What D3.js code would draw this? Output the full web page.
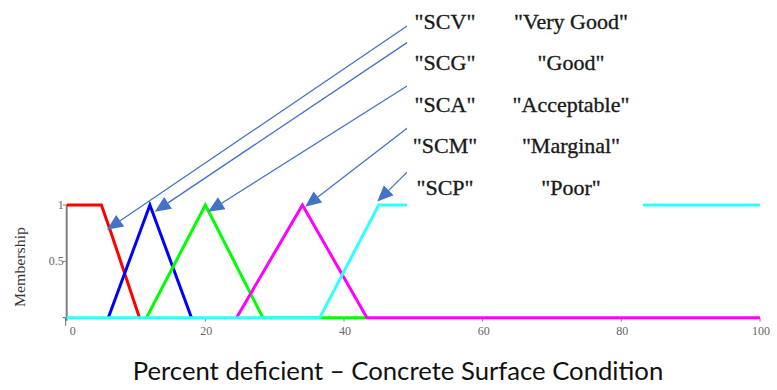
<!DOCTYPE html>
<html>
<head>
<meta charset="utf-8">
<script src="https://cdn.jsdelivr.net/npm/d3@7"></script>
<style>
  html, body { margin: 0; padding: 0; background: #fff; }
  svg { display: block; }
</style>
</head>
<body>
<svg id="chart" width="777" height="390"></svg>
<script>
// Membership functions for the concrete surface condition ratings
const seriesNames = ["SCV", "SCG", "SCA", "SCM", "SCP"];
const seriesLabels = ["\"Very Good\"", "\"Good\"", "\"Acceptable\"", "\"Marginal\"", "\"Poor\""];
const seriesColors = ["#ff0000", "#0000ff", "#00ff00", "#ff00ff", "#33ffff"];

const scvPoints = [[0, 1], [5, 1], [6.2, 0.79], [10.5, 0]];
const scgPoints = [[6, 0], [12, 1], [18, 0]];
const scaPoints = [[11.5, 0], [20, 1], [28.3, 0], [43.3, 0]];
const scmPoints = [[24.5, 0], [34, 1], [43.3, 0], [100, 0]];
const scpPoints = [[0, 0], [36.5, 0], [45, 1], [100, 1]];

const xTicks = [0, 20, 40, 60, 80, 100];
const yTicks = [0.5, 1];

// Where each callout arrow points (percent deficient, membership)
const arrowTips = [[5.8, 0.78], [12.7, 0.94], [20.4, 0.94], [34.4, 0.985], [44.8, 1.03]];
// Arrow tails start behind the label panel, at these heights
const arrowTailY = [26.7, 43.3, 86.7, 129, 173.3];

const svg = d3.select("#chart");

const x = d3.scaleLinear().domain([0, 100]).range([66.7, 760]);
const y = d3.scaleLinear().domain([0, 1]).range([317.7, 205]);

const serif = "'Liberation Serif', 'Times New Roman', serif";

// axis frame
const axisColor = "#808080";
svg.append("line")
  .attr("x1", x(0)).attr("x2", x(0))
  .attr("y1", y(1)).attr("y2", y(0) + 3)
  .attr("stroke", axisColor).attr("stroke-width", 2);

svg.append("g").selectAll("line").data(yTicks).join("line")
  .attr("x1", x(0) - 4).attr("x2", x(0))
  .attr("y1", d => y(d)).attr("y2", d => y(d))
  .attr("stroke", axisColor).attr("stroke-width", 1);

svg.append("g").selectAll("text").data(yTicks).join("text")
  .attr("x", x(0) - 3).attr("y", d => y(d) + 4)
  .attr("text-anchor", "end")
  .attr("font-family", serif).attr("font-size", 12)
  .attr("fill", "#666")
  .text(d => d === 1 ? "1" : d);

// small hooked tick at the origin
svg.append("path")
  .attr("d", `M${x(0) - 4},${y(0)} L${x(0) - 1},${y(0)} L${x(0) - 1},${y(0) + 8}`)
  .attr("fill", "none").attr("stroke", "#666").attr("stroke-width", 1);

svg.append("g").selectAll("line").data(xTicks.slice(1)).join("line")
  .attr("x1", d => x(d)).attr("x2", d => x(d))
  .attr("y1", y(0)).attr("y2", y(0) + 4)
  .attr("stroke", axisColor).attr("stroke-width", 1);

svg.append("g").selectAll("text").data(xTicks).join("text")
  .attr("x", d => d === 0 ? x(d) + 3 : x(d) + 1)
  .attr("y", y(0) + 17)
  .attr("text-anchor", d => d === 0 ? "start" : "middle")
  .attr("font-family", serif).attr("font-size", 12)
  .attr("fill", "#666")
  .text(d => d);

// y axis title
svg.append("text")
  .attr("transform", `translate(25,267) rotate(-90)`)
  .attr("text-anchor", "middle")
  .attr("font-family", serif).attr("font-size", 14)
  .attr("textLength", 80).attr("lengthAdjust", "spacingAndGlyphs")
  .attr("fill", "#333")
  .text("Membership");

// membership curves
const line = d3.line().x(d => x(d[0])).y(d => y(d[1]));
const allSeries = [scvPoints, scgPoints, scaPoints, scmPoints, scpPoints];
svg.append("g").selectAll("path").data(allSeries).join("path")
  .attr("d", line)
  .attr("fill", "none")
  .attr("stroke", (d, i) => seriesColors[i])
  .attr("stroke-width", 3)
  .attr("stroke-linejoin", "miter");

// callout arrows
const arrowColor = "#4472C4";
const arrows = svg.append("g");
arrowTips.forEach((t, i) => {
  const tx = x(t[0]), ty = y(t[1]);
  const sx0 = 406, sy0 = arrowTailY[i];
  const dx = tx - sx0, dy = ty - sy0;
  const len = Math.hypot(dx, dy);
  const ux = dx / len, uy = dy / len;
  const sx = sx0 - ux * 12, sy = sy0 - uy * 12;
  const headLen = 16, headHalf = 7;
  const bx = tx - ux * headLen, by = ty - uy * headLen;
  arrows.append("line")
    .attr("x1", sx).attr("y1", sy).attr("x2", bx).attr("y2", by)
    .attr("stroke", arrowColor).attr("stroke-width", 1.3);
  arrows.append("path")
    .attr("d", `M${tx},${ty} L${bx - uy * headHalf},${by + ux * headHalf} L${bx + uy * headHalf},${by - ux * headHalf} Z`)
    .attr("fill", arrowColor);
});

// label panel with the rating codes and names
svg.append("rect")
  .attr("x", 407).attr("y", 0)
  .attr("width", 236).attr("height", 208)
  .attr("fill", "#fff");

const rowY = [29, 70, 112, 153, 195];
const labels = svg.append("g")
  .attr("font-family", serif).attr("font-size", 22)
  .attr("fill", "#1a1a1a").attr("stroke", "#1a1a1a").attr("stroke-width", 0.35);
labels.selectAll("text.code").data(seriesNames).join("text")
  .attr("class", "code")
  .attr("x", 445).attr("y", (d, i) => rowY[i])
  .attr("text-anchor", "middle")
  .text(d => `"${d}"`);
labels.selectAll("text.name").data(seriesLabels).join("text")
  .attr("class", "name")
  .attr("x", 571).attr("y", (d, i) => rowY[i])
  .attr("text-anchor", "middle")
  .text(d => d);

// x axis title
svg.append("text")
  .attr("x", 398).attr("y", 380)
  .attr("text-anchor", "middle")
  .attr("font-family", "Lato, 'Open Sans', sans-serif")
  .attr("font-size", 25.7)
  .attr("fill", "#111")
  .text("Percent deficient \u2013 Concrete Surface Condition");
</script>
</body>
</html>
